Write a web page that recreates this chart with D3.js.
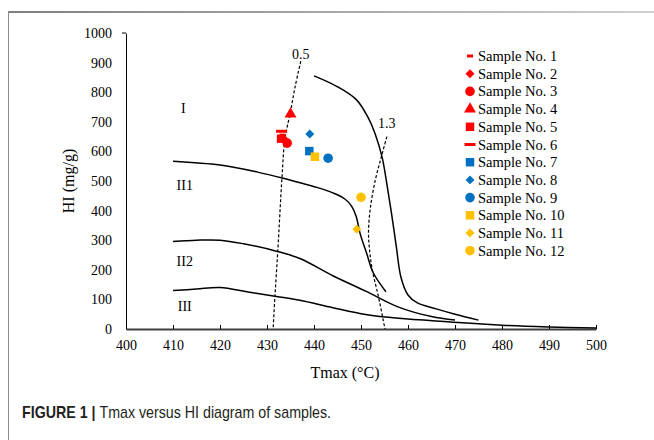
<!DOCTYPE html>
<html>
<head>
<meta charset="utf-8">
<script src="https://cdn.jsdelivr.net/npm/d3@7"></script>
<style>
body { margin: 0; background: #fff; }
svg { display: block; }
.zone { font-family: "Liberation Serif", "Times New Roman", serif; font-size: 14px; fill: #000; }
</style>
</head>
<body>
<svg id="chart" width="654" height="440"></svg>
<script>
// samples: name, Tmax, HI, marker, colour
var sampleNames = ["Sample No. 1", "Sample No. 2", "Sample No. 3", "Sample No. 4", "Sample No. 5", "Sample No. 6",
		"Sample No. 7", "Sample No. 8", "Sample No. 9", "Sample No. 10", "Sample No. 11", "Sample No. 12"];
var sampleTmax = [433.3, 434.0, 434.3, 435.0, 433.0, 433.1, 439.0, 439.1, 443.0, 440.2, 449.1, 450.0];
var sampleHI = [655, 636, 628, 726, 643, 668, 601, 659, 577, 582, 337, 445];
var sampleShapes = ["dash", "diamond", "circle", "triangle", "square", "longdash",
		"square", "diamond", "circle", "square", "diamond", "circle"];
var sampleColors = ["#ff0000", "#ff0000", "#ff0000", "#ff0000", "#ff0000", "#ff0000",
		"#0070c0", "#0070c0", "#0070c0", "#ffc000", "#ffc000", "#ffc000"];

// kerogen type boundary curves [Tmax, HI]
var curveI = [[440, 855], [444.8, 820], [449, 775], [451.5, 715], [453, 660], [454.5, 580], [455.5, 490],
		[456.5, 390], [457.5, 280], [458.5, 175], [460, 115], [462, 88], [466, 68], [470, 50], [475, 30]];
var curveII1 = [[410, 567], [420, 554], [428, 530], [433.5, 509], [437, 494], [441.3, 475], [444, 460],
		[446.5, 440], [448, 415], [449, 379], [449.8, 323], [451.2, 256], [452.6, 190], [455.3, 126]];
var curveII2 = [[410, 296], [415, 300], [420, 300], [425, 288], [432, 263], [437, 238], [444, 180],
		[451, 128], [458, 74], [465, 42], [470, 30]];
var curveIII = [[410, 130], [415, 135], [420, 140], [426, 125], [432, 110], [437, 97], [444, 72],
		[451, 49], [458, 36], [469, 24], [480, 13], [490, 7], [500, 3]];
// vitrinite reflectance iso-lines (Ro %)
var ro05 = [[437.2, 905], [436, 820], [435, 735], [433.8, 640], [433.2, 515], [432.3, 265], [431.7, 113], [431.3, 0]];
var ro13 = [[455.5, 650], [454.3, 580], [453, 500], [452, 410], [451.6, 330], [451.8, 270], [452.4, 200],
		[453.7, 110], [455.1, 0]];

var zoneLabels = ["I", "II1", "II2", "III"];
var zoneLabelPos = [[412.2, 745], [412.5, 485], [412.5, 230], [412.5, 78]];

var xTicks = d3.range(400, 501, 10),
		yTicks = d3.range(0, 1001, 100);

var serif = "'Liberation Serif', 'Times New Roman', serif";

var svg = d3.select("#chart");

// figure frame (gray border of the figure panel)
var grad = svg.append("defs").append("linearGradient")
		.attr("id", "frameGrad");
grad.append("stop").attr("offset", "0%").attr("stop-color", "#7f7f7f");
grad.append("stop").attr("offset", "100%").attr("stop-color", "#d0d0d0");
svg.append("rect")
		.attr("x", 8).attr("y", 11)
		.attr("width", 646).attr("height", 2)
		.attr("fill", "url(#frameGrad)");
svg.append("line")
		.attr("x1", 8.5).attr("x2", 8.5)
		.attr("y1", 11).attr("y2", 440)
		.attr("stroke", "#8c8c8c")
		.attr("stroke-width", 1);

var x = d3.scaleLinear().domain([400, 500]).range([126, 596]),
		y = d3.scaleLinear().domain([0, 1000]).range([329, 33]);

var xAxis = d3.axisBottom(x)
		.tickValues(xTicks)
		.tickFormat(d3.format("d"))
		.tickSizeInner(-4)
		.tickSizeOuter(0)
		.tickPadding(11);
var yAxis = d3.axisLeft(y)
		.tickValues(yTicks)
		.tickFormat(d3.format("d"))
		.tickSize(0)
		.tickPadding(14);

var gy = svg.append("g")
		.attr("class", "axis axis--y")
		.attr("transform", "translate(" + x(400) + ",0)")
		.call(yAxis);
gy.select(".domain").attr("stroke", "#000").attr("stroke-width", 1);
gy.append("line")
		.attr("x1", -4).attr("x2", 0)
		.attr("y1", y(1000)).attr("y2", y(1000))
		.attr("stroke", "#000");

var gx = svg.append("g")
		.attr("class", "axis axis--x")
		.attr("transform", "translate(0," + y(0) + ")")
		.call(xAxis);
gx.select(".domain").attr("stroke", "#404040").attr("stroke-width", 1.8);
gx.selectAll(".tick line").attr("stroke", "#000");

svg.selectAll(".axis text")
		.style("font-family", serif)
		.style("font-size", "14px")
		.attr("fill", "#000");

var line = d3.line()
		.curve(d3.curveCatmullRom.alpha(0.5))
		.x(function(d) { return x(d[0]); })
		.y(function(d) { return y(d[1]); });

[curveI, curveII1, curveII2, curveIII].forEach(function(c) {
	svg.append("path")
			.datum(c)
			.attr("d", line)
			.attr("fill", "none")
			.attr("stroke", "#000")
			.attr("stroke-width", 1.5);
});

[ro05, ro13].forEach(function(c) {
	svg.append("path")
			.datum(c)
			.attr("d", line)
			.attr("fill", "none")
			.attr("stroke", "#000")
			.attr("stroke-width", 1.2)
			.attr("stroke-dasharray", "3,2");
});

svg.append("text").attr("class", "zone")
		.attr("x", x(ro05[0][0])).attr("y", y(ro05[0][1]) - 2)
		.attr("text-anchor", "middle")
		.text("0.5");
svg.append("text").attr("class", "zone")
		.attr("x", x(ro13[0][0])).attr("y", y(ro13[0][1]) - 9)
		.attr("text-anchor", "middle")
		.text("1.3");

zoneLabels.forEach(function(t, i) {
	svg.append("text").attr("class", "zone")
			.attr("x", x(zoneLabelPos[i][0]))
			.attr("y", y(zoneLabelPos[i][1]))
			.attr("text-anchor", "middle")
			.attr("dy", "0.35em")
			.text(t);
});

function drawMarker(g, shape, color) {
	if (shape == "dash" || shape == "longdash") {
		var w = shape == "dash" ? 6 : 11;
		g.append("rect")
				.attr("x", -w / 2).attr("y", -1.5)
				.attr("width", w).attr("height", 3)
				.attr("fill", color);
		return;
	}
	if (shape == "diamond") {
		g.append("path")
				.attr("d", d3.symbol().type(d3.symbolSquare).size(40)())
				.attr("transform", "rotate(45)")
				.attr("fill", color);
		return;
	}
	var types = {circle: d3.symbolCircle, square: d3.symbolSquare, triangle: d3.symbolTriangle},
			sizes = {circle: 72, square: 72, triangle: 62};
	g.append("path")
			.attr("d", d3.symbol().type(types[shape]).size(sizes[shape])())
			.attr("fill", color);
}

// points
sampleNames.forEach(function(name, i) {
	var g = svg.append("g")
			.attr("transform", "translate(" + x(sampleTmax[i]) + "," + y(sampleHI[i]) + ")");
	drawMarker(g, sampleShapes[i], sampleColors[i]);
});

// legend
var legend = svg.append("g").attr("transform", "translate(470,56)");
sampleNames.forEach(function(name, i) {
	var row = legend.append("g").attr("transform", "translate(0," + (i * 17.7) + ")");
	drawMarker(row, sampleShapes[i], sampleColors[i]);
	row.append("text")
			.attr("x", 8)
			.attr("dy", "0.35em")
			.style("font-family", serif)
			.style("font-size", "14.5px")
			.text(name);
});

// axis titles
svg.append("text")
		.attr("x", 345).attr("y", 372)
		.attr("dy", "0.35em")
		.attr("text-anchor", "middle")
		.style("font-family", serif)
		.style("font-size", "16px")
		.text("Tmax (°C)");
svg.append("text")
		.attr("transform", "translate(68," + y(500) + ") rotate(-90)")
		.attr("dy", "0.35em")
		.attr("text-anchor", "middle")
		.style("font-family", serif)
		.style("font-size", "16px")
		.text("HI (mg/g)");

// caption
var cap = svg.append("text")
		.attr("transform", "translate(22,418) scale(0.89,1)")
		.style("font-family", "'Liberation Sans', Arial, sans-serif")
		.style("font-size", "16px")
		.attr("fill", "#231f20");
cap.append("tspan").style("font-weight", "bold").text("FIGURE 1 | ");
cap.append("tspan").text("Tmax versus HI diagram of samples.");
</script>
</body>
</html>
